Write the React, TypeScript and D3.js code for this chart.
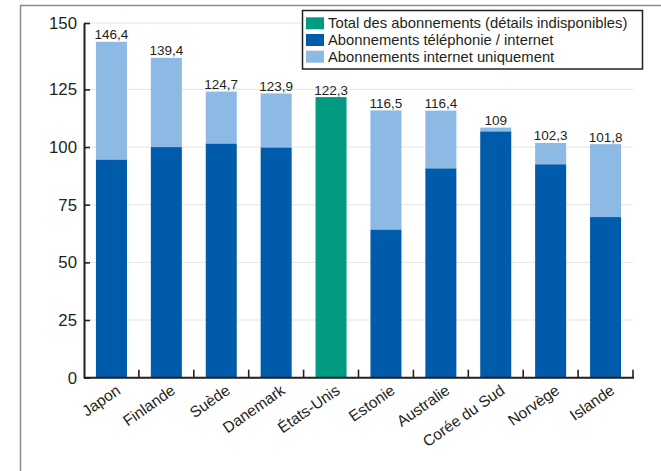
import { useEffect, useRef } from 'react';
import * as d3 from 'd3';

const W = 661;
const H = 471;

const countries = ['Japon', 'Finlande', 'Suède', 'Danemark', 'États-Unis', 'Estonie', 'Australie', 'Corée du Sud', 'Norvège', 'Islande'];
// total per country (label on top of bar)
const totals = [146.4, 139.4, 124.7, 123.9, 122.3, 116.5, 116.4, 109, 102.3, 101.8];
// phone / internet part (dark blue); null = details unavailable
const phoneInternet: (number | null)[] = [95, 100.5, 102, 100.3, null, 64.5, 91.2, 107.3, 93, 70];
const yTicks = [0, 25, 50, 75, 100, 125, 150];
const legendLabels = [
  'Total des abonnements (détails indisponibles)',
  'Abonnements téléphonie / internet',
  'Abonnements internet uniquement',
];

const COLORS = { total: '#009b80', phone: '#005baa', internet: '#8cbae4' };
const legendColors = [COLORS.total, COLORS.phone, COLORS.internet];
const INK = '#231f20';
const FONT = '"Liberation Sans", Arial, Helvetica, sans-serif';

const X0 = 84;
const X1 = 633;
const Y0 = 377.7;
const Y125 = 89.4;
const YTOP = 23;

export default function App() {
  const yAxisRef = useRef<SVGGElement>(null);

  const x = d3.scaleBand<string>().domain(countries).range([X0, X1]).paddingInner(0.435).paddingOuter(0.2175);
  // bars follow a linear scale, the drawn axis ends a bit higher at 150
  const yAxis = d3.scaleLinear().domain([0, 125, 150]).range([Y0, Y125, YTOP]);
  const y = d3.scaleLinear().domain([0, 125]).range([Y0, Y125 + 1.5]);
  const step = x.step();
  const bw = x.bandwidth();

  useEffect(() => {
    const g = d3.select(yAxisRef.current);
    g.selectAll('*').remove();
    g.call(
      d3.axisLeft(yAxis).tickValues(yTicks).tickSizeInner(-6).tickSizeOuter(0).tickPadding(7).tickFormat(d3.format('d'))
    );
    g.attr('font-family', FONT).attr('font-size', 16.8);
    g.selectAll('path').attr('stroke', INK).attr('stroke-width', 2);
    g.selectAll('line').attr('stroke', INK).attr('stroke-width', 1.6);
    g.selectAll('text').attr('fill', INK);
  }, []);

  return (
    <div style={{ position: 'absolute', left: 0, top: 0 }}>
      <svg width={W} height={H} style={{ display: 'block', background: '#fff' }}>
        {/* frame */}
        <path d={`M20.5,${H} V5.5 H${W}`} fill="none" stroke="#8c8c8c" strokeWidth={1.5} />

        {/* grid */}
        {yTicks.slice(1).map((t) => (
          <line key={t} x1={X0} x2={X1} y1={yAxis(t)} y2={yAxis(t)} stroke="#e4e4e4" strokeWidth={1} />
        ))}

        {/* bars */}
        {countries.map((c, i) => {
          const bx = x(c) as number;
          const dark = phoneInternet[i];
          if (dark === null) {
            return <rect key={c} x={bx} width={bw} y={y(totals[i])} height={Y0 - y(totals[i])} fill={COLORS.total} />;
          }
          return (
            <g key={c}>
              <rect x={bx} width={bw} y={y(totals[i])} height={y(dark) - y(totals[i])} fill={COLORS.internet} />
              <rect x={bx} width={bw} y={y(dark)} height={Y0 - y(dark)} fill={COLORS.phone} />
            </g>
          );
        })}

        {/* value labels */}
        {countries.map((c, i) => (
          <text
            key={c}
            x={(x(c) as number) + bw / 2}
            y={y(totals[i]) - 2.5}
            textAnchor="middle"
            fontFamily={FONT}
            fontSize={13.5}
            fill={INK}
          >
            {String(totals[i]).replace('.', ',')}
          </text>
        ))}

        {/* x axis */}
        <line x1={X0} x2={X1 + 1} y1={Y0} y2={Y0} stroke={INK} strokeWidth={2} />
        {countries.map((c) => {
          const tx = (x(c) as number) + bw + (step - bw) / 2;
          return <line key={c} x1={tx} x2={tx} y1={Y0} y2={Y0 - 8} stroke={INK} strokeWidth={1.6} />;
        })}
        {countries.map((c) => {
          const cx = (x(c) as number) + bw / 2;
          return (
            <text
              key={c}
              transform={`translate(${cx + 10},${Y0 + 15}) rotate(-35)`}
              textAnchor="end"
              fontFamily={FONT}
              fontSize={15.5}
              fill={INK}
            >
              {c}
            </text>
          );
        })}

        {/* y axis */}
        <g ref={yAxisRef} transform={`translate(${X0},0)`} />

        {/* legend */}
        <g>
          <rect x={302.5} y={10.5} width={340} height={58.5} fill="#fff" stroke={INK} strokeWidth={1.5} />
          {legendLabels.map((l, i) => (
            <g key={l} transform={`translate(306,${17.3 + i * 16.7})`}>
              <rect width={18} height={12} fill={legendColors[i]} />
              <text x={22} y={11} fontFamily={FONT} fontSize={14.8} fill={INK}>
                {l}
              </text>
            </g>
          ))}
        </g>
      </svg>
    </div>
  );
}
